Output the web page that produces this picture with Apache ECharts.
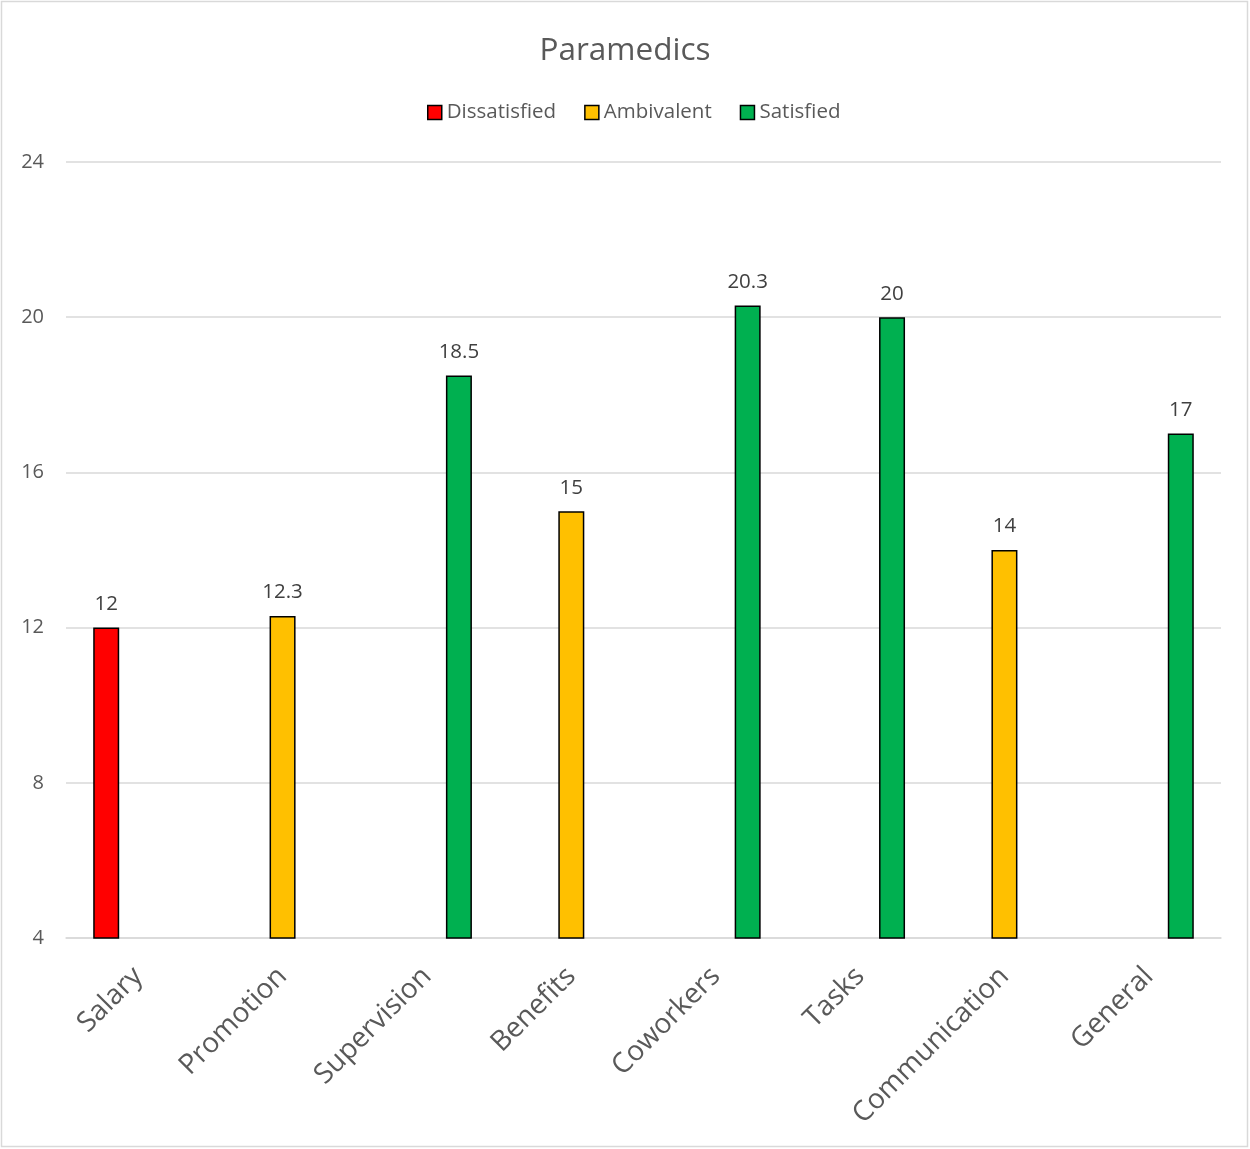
<!DOCTYPE html>
<html>
<head>
<meta charset="utf-8">
<script src="https://cdn.jsdelivr.net/npm/echarts@6/dist/echarts.min.js"></script>
<style>
  html, body { margin: 0; padding: 0; background: #fff; }
  #chart { width: 1250px; height: 1149px; }
</style>
</head>
<body>
<div id="chart"></div>
<script>
// Job satisfaction scores by facet
const categories = ['Salary', 'Promotion', 'Supervision', 'Benefits', 'Coworkers', 'Tasks', 'Communication', 'General'];
const dissatisfied = [12, '-', '-', '-', '-', '-', '-', '-'];
const ambivalent   = ['-', 12.3, '-', 15, '-', '-', 14, '-'];
const satisfied    = ['-', '-', 18.5, '-', 20.3, 20, '-', 17];
const yTicks = { min: 4, max: 24, step: 4 };

const FONT = '"Open Sans", "Noto Sans", sans-serif';
const TEXT = '#595959';

function barSeries(name, data, color) {
  return {
    name: name,
    type: 'bar',
    data: data,
    barWidth: 26,
    barGap: '23%',
    itemStyle: { color: color, borderColor: '#000', borderWidth: 1.5 },
    label: {
      show: true,
      position: 'top',
      distance: 13,
      color: '#404040',
      fontSize: 20.5,
      fontFamily: FONT
    }
  };
}

const chart = echarts.init(document.getElementById('chart'));
chart.setOption({
  animation: false,
  backgroundColor: '#fff',
  title: {
    text: 'Paramedics',
    left: 'center',
    top: 30,
    textStyle: { color: TEXT, fontSize: 31.5, fontWeight: 'normal', fontFamily: FONT }
  },
  legend: {
    top: 97,
    left: 422,
    itemWidth: 14,
    itemHeight: 14,
    itemGap: 28,
    icon: 'rect',
    textStyle: { color: TEXT, fontSize: 20.5, fontFamily: FONT },
    itemStyle: { borderColor: '#000', borderWidth: 1.5 }
  },
  grid: { left: 66, right: 29, top: 162, bottom: 211, containLabel: false },
  xAxis: {
    type: 'category',
    data: categories,
    axisLine: { lineStyle: { color: '#d9d9d9', width: 1.5 } },
    axisTick: { show: false },
    axisLabel: {
      rotate: 45,
      margin: 34,
      color: TEXT,
      fontSize: 28,
      fontFamily: FONT
    }
  },
  yAxis: {
    type: 'value',
    min: yTicks.min,
    max: yTicks.max,
    interval: yTicks.step,
    axisLine: { show: false },
    axisTick: { show: false },
    axisLabel: { color: TEXT, fontSize: 20, fontFamily: FONT, margin: 22 },
    splitLine: { lineStyle: { color: '#d9d9d9', width: 1.5 } }
  },
  series: [
    barSeries('Dissatisfied', dissatisfied, '#ff0000'),
    barSeries('Ambivalent', ambivalent, '#ffc000'),
    barSeries('Satisfied', satisfied, '#00b050')
  ],
  graphic: [{
    type: 'rect',
    shape: { x: 1.5, y: 1.5, width: 1246, height: 1145 },
    style: { fill: 'none', stroke: '#d9d9d9', lineWidth: 1.5 },
    silent: true
  }]
});
</script>
</body>
</html>
